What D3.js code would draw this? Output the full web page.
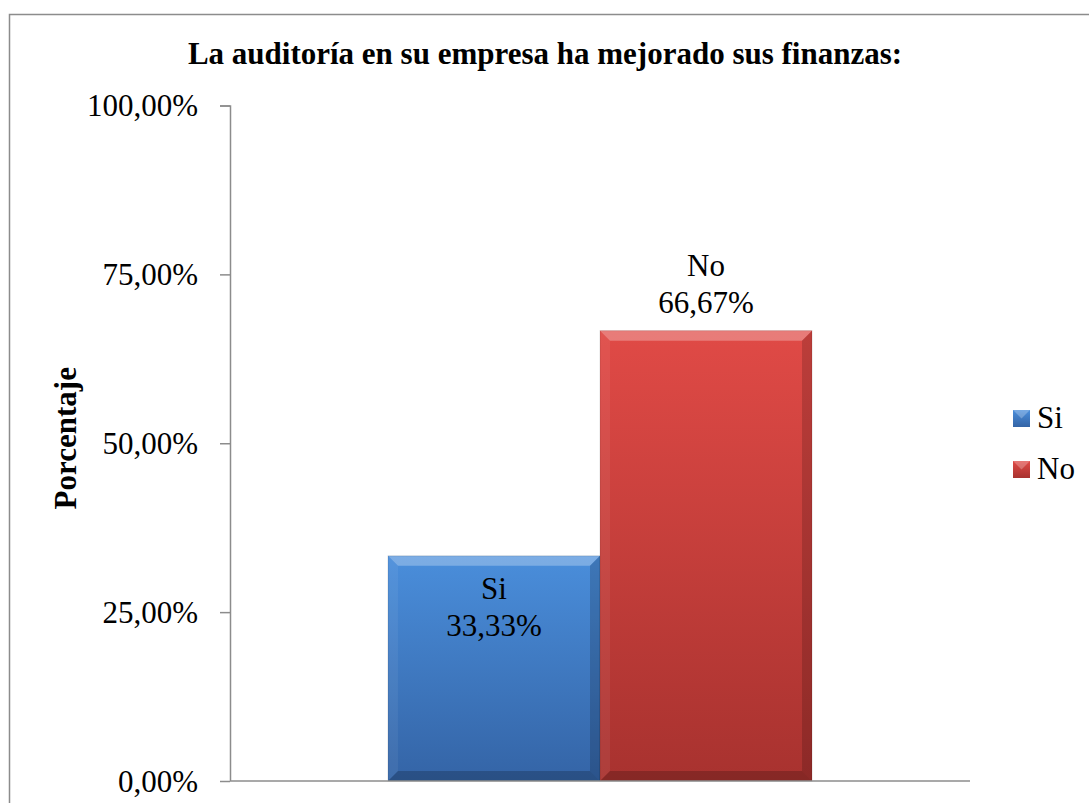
<!DOCTYPE html>
<html>
<head>
<meta charset="utf-8">
<script src="https://cdn.jsdelivr.net/npm/d3@7"></script>
<style>
  body { margin: 0; background: #fff; }
  text { font-family: "Liberation Serif", "Times New Roman", serif; fill: #000; }
</style>
</head>
<body>
<div id="chart"></div>
<script>
// Chart data
const categories = ["Si", "No"];
const values = [33.33, 66.67];
const yTicks = [0, 25, 50, 75, 100];
const chartTitle = "La auditoría en su empresa ha mejorado sus finanzas:";
const yTitle = "Porcentaje";

const colors = {
    Si: { light: "#4a8edb", dark: "#3464a6" },
    No: { light: "#e04a46", dark: "#a8322f" }
};

function drawChart() {
    const W = 1089, H = 803;
    const margin = { top: 105.5, right: 119, bottom: 22, left: 230 };
    const width = W - margin.left - margin.right;
    const height = H - margin.top - margin.bottom;
    const fontSize = "31px";
    const pct = v => d3.format(".2f")(v).replace(".", ",") + "%";

    const svg = d3.select("#chart")
        .append("svg")
        .attr("width", W)
        .attr("height", H);

    // outer frame
    svg.append("rect")
        .attr("x", 9.5).attr("y", 14.5)
        .attr("width", W + 20).attr("height", H + 20)
        .attr("fill", "none")
        .attr("stroke", "#8c8c8c")
        .attr("stroke-width", 1.5);

    const defs = svg.append("defs");
    categories.forEach(c => {
        const g = defs.append("linearGradient")
            .attr("id", "grad-" + c)
            .attr("x1", 0).attr("y1", 0).attr("x2", 0).attr("y2", 1);
        g.append("stop").attr("offset", "0%").attr("stop-color", colors[c].light);
        g.append("stop").attr("offset", "100%").attr("stop-color", colors[c].dark);
    });

    const g = svg.append("g")
        .attr("transform", `translate(${margin.left},${margin.top})`);

    // one category on the x axis, series side by side
    const x0 = d3.scaleBand().domain(["all"]).range([0, width]).paddingInner(0).paddingOuter(0.3726);
    const x1 = d3.scaleBand().domain(categories).range([x0("all"), x0("all") + x0.bandwidth()]);
    const y = d3.scaleLinear().domain([0, 100]).range([height, 0]);

    // y axis
    const yAxis = g.append("g")
        .call(d3.axisLeft(y).tickValues(yTicks).tickSize(10).tickPadding(22).tickFormat(pct));
    yAxis.attr("font-family", null).attr("font-size", null);
    yAxis.select(".domain").attr("stroke", "#8c8c8c").attr("stroke-width", 1.5).attr("d", `M-10,0.5H0.5V${height}`);
    yAxis.selectAll(".tick line").attr("stroke", "#8c8c8c").attr("stroke-width", 1.5);
    yAxis.selectAll(".tick text").style("font-size", fontSize).attr("dy", "0.33em");

    // bars with bevel
    const bev = 10;
    categories.forEach((c, i) => {
        const bx = x1(c), bw = x1.bandwidth();
        const by = y(values[i]), bh = height - y(values[i]);
        const bar = g.append("g").attr("class", "bar");
        bar.append("rect")
            .attr("x", bx).attr("y", by).attr("width", bw).attr("height", bh)
            .attr("fill", `url(#grad-${c})`);
        // top bevel
        bar.append("path")
            .attr("d", `M${bx},${by}H${bx + bw}L${bx + bw - bev},${by + bev}H${bx + bev}Z`)
            .attr("fill", "#fff").attr("opacity", 0.28);
        // left bevel
        bar.append("path")
            .attr("d", `M${bx},${by}L${bx + bev},${by + bev}V${by + bh - bev}L${bx},${by + bh}Z`)
            .attr("fill", "#fff").attr("opacity", 0.06);
        // right bevel
        bar.append("path")
            .attr("d", `M${bx + bw},${by}L${bx + bw - bev},${by + bev}V${by + bh - bev}L${bx + bw},${by + bh}Z`)
            .attr("fill", "#000").attr("opacity", 0.16);
        // bottom bevel
        bar.append("path")
            .attr("d", `M${bx},${by + bh}L${bx + bev},${by + bh - bev}H${bx + bw - bev}L${bx + bw},${by + bh}Z`)
            .attr("fill", "#000").attr("opacity", 0.2);
        bar.append("rect")
            .attr("x", bx).attr("y", by).attr("width", bw).attr("height", bh)
            .attr("fill", "none").attr("stroke", "#000").attr("stroke-opacity", 0.12);

        // data labels: the short bar keeps them inside, the tall one above
        const inside = i === 0;
        const ly = inside ? by + 43 : by - 55;
        const label = g.append("text")
            .attr("text-anchor", "middle")
            .style("font-size", fontSize);
        label.append("tspan").attr("x", bx + bw / 2).attr("y", ly).text(c);
        label.append("tspan").attr("x", bx + bw / 2).attr("y", ly + 37).text(pct(values[i]));
    });

    // x axis line
    g.append("line")
        .attr("x1", 0).attr("x2", width)
        .attr("y1", height).attr("y2", height)
        .attr("stroke", "#8c8c8c").attr("stroke-width", 1.5);

    // title
    svg.append("text")
        .attr("x", 545).attr("y", 64)
        .attr("text-anchor", "middle")
        .style("font-size", fontSize).style("font-weight", "bold")
        .text(chartTitle);

    // y axis title
    svg.append("text")
        .attr("transform", `translate(76,${margin.top + y(50) - 5}) rotate(-90)`)
        .attr("text-anchor", "middle")
        .style("font-size", fontSize).style("font-weight", "bold")
        .text(yTitle);

    // legend
    const legend = svg.append("g").attr("transform", "translate(1013,0)");
    const legendY = [428, 479];
    categories.forEach((c, i) => {
        const item = legend.append("g").attr("transform", `translate(0,${legendY[i]})`);
        item.append("rect").attr("width", 17).attr("height", 17).attr("y", -18)
            .attr("fill", `url(#grad-${c})`);
        item.append("path").attr("d", "M0,-18H17L8.5,-9.5Z").attr("fill", "#fff").attr("opacity", 0.25);
        item.append("text").attr("x", 24)
            .style("font-size", fontSize).text(c);
    });
}

drawChart();
</script>
</body>
</html>
